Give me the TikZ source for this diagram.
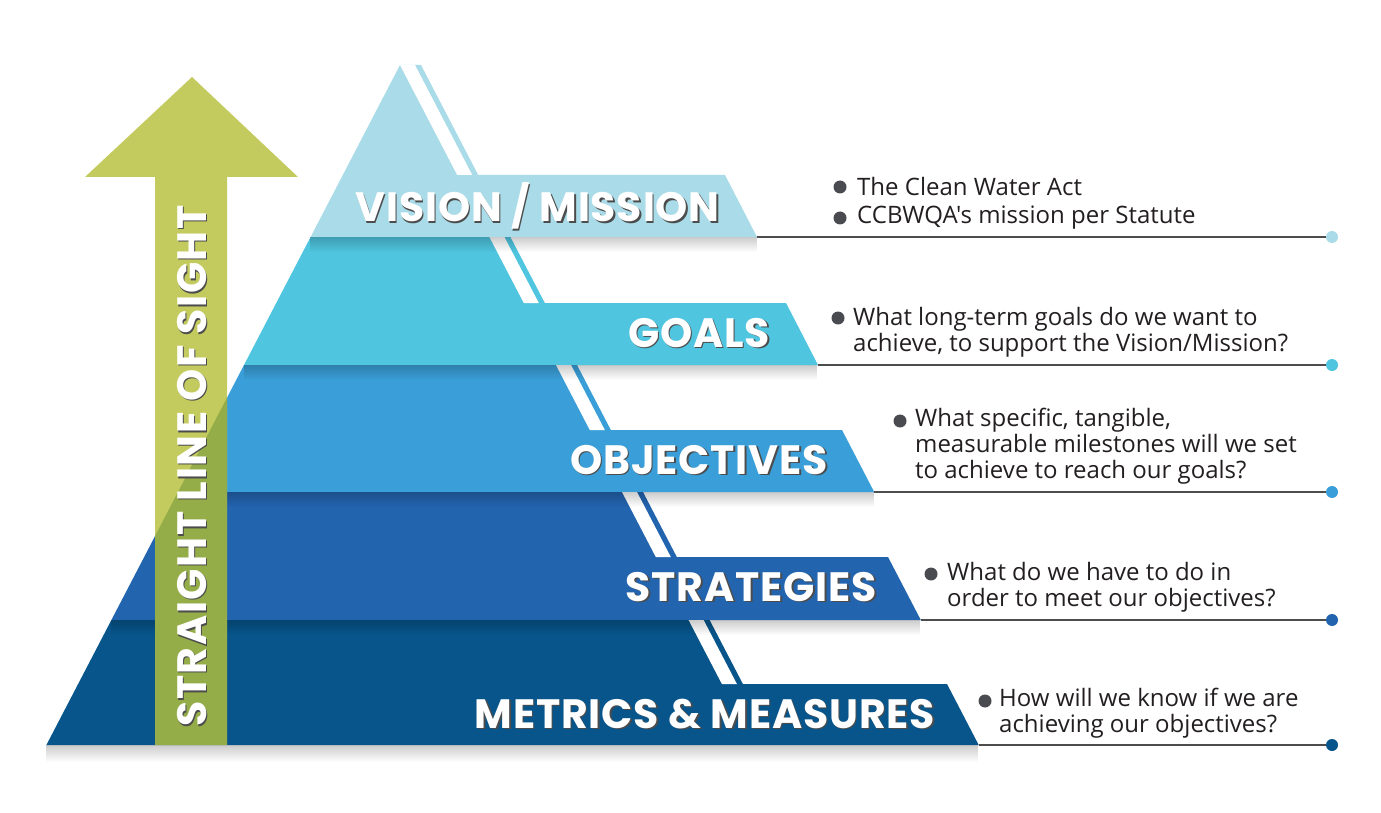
\documentclass[tikz,border=0pt]{standalone}
\usepackage{fontspec}
\usetikzlibrary{fadings}
\newfontfamily\headfont{Poppins}[LetterSpace=2]
\newfontfamily\sightfont{Poppins}[LetterSpace=4]
\newfontfamily\bodyfont{Open Sans}

\definecolor{visioncol}{HTML}{A9DCE8}
\definecolor{goalscol}{HTML}{4FC5DF}
\definecolor{objcol}{HTML}{3A9FD8}
\definecolor{stratcol}{HTML}{2364AF}
\definecolor{metriccol}{HTML}{07558B}
\definecolor{arrowlight}{HTML}{C4CB5E}
\definecolor{arrowdark}{HTML}{95AD48}
\definecolor{textdark}{HTML}{231F20}
\definecolor{bulletgray}{HTML}{4A4B50}
\definecolor{rulegray}{HTML}{4D4D4D}

\tikzset{
  title/.style={font=\headfont\bfseries\fontsize{41}{41}\selectfont, text=white, inner sep=0pt},
  titleshadow/.style={title, text=black!70},
  sighttitle/.style={title, font=\sightfont\bfseries\fontsize{41}{41}\selectfont},
  note/.style={font=\bodyfont\fontsize{24}{26}\selectfont, text=textdark, align=left, anchor=west, inner sep=0pt},
  bullet/.style={circle, fill=bulletgray, minimum size=13pt, inner sep=0pt},
  rule/.style={draw=rulegray, line width=1.3pt},
  enddot/.style={circle, minimum size=12pt, inner sep=0pt},
  tabshadow/.style={fill=black, fill opacity=0.2, path fading=south},
}
\newcommand{\tabtitle}[4][east]{%
  \node[titleshadow, anchor=#1] at ([shift={(1.5,1.5)}]#3) {#4};
  \node[title, anchor=#1] (#2) at (#3) {#4};}

\begin{document}
\begin{tikzpicture}[x=1pt,y=-1pt]
   \useasboundingbox (0,0) rectangle (1381,813);
   \fill[white] (0,0) rectangle (1381,813);
   % pyramid bands with their tabs
   \fill[visioncol] (310.6,237) -- (400,65) -- (421,65) -- (478.2,175) -- (725,175) -- (757,237) -- cycle;
   \fill[white] (400,65) -- (415,65) -- (472.2,175) -- (457.2,175) -- cycle;
   \fill[goalscol] (244,365) -- (310.6,237) -- (510.4,237) -- (544.8,303) -- (786,303) -- (818,365) -- cycle;
   \fill[white] (489.4,237) -- (504.4,237) -- (538.8,303) -- (523.8,303) -- cycle;
   \fill[objcol] (178,492) -- (244,365) -- (577,365) -- (610.8,430) -- (842,430) -- (874.2,492) -- cycle;
   \fill[white] (556,365) -- (571,365) -- (604.8,430) -- (589.8,430) -- cycle;
   \fill[stratcol] (111.4,620) -- (178,492) -- (643,492) -- (676.8,557) -- (888,557) -- (920.8,620) -- cycle;
   \fill[white] (622,492) -- (637,492) -- (670.8,557) -- (655.8,557) -- cycle;
   \fill[metriccol] (46.4,745) -- (111.4,620) -- (709.6,620) -- (742.9,684) -- (947,684) -- (978.7,745) -- cycle;
   \fill[white] (688.6,620) -- (703.6,620) -- (736.9,684) -- (721.9,684) -- cycle;
   % shadows under the tabs
   \fill[tabshadow] (310.6,237) rectangle (757,252);
   \fill[tabshadow] (244,365) rectangle (818,380);
   \fill[tabshadow] (178,492) rectangle (874.2,507);
   \fill[tabshadow] (111.4,620) rectangle (920.8,635);
   \fill[tabshadow] (46.4,745) rectangle (978.7,762);
   % arrow
   \fill[arrowlight] (155,745) -- (155,177) -- (85,177) -- (192,77) -- (298,177) -- (227,177) -- (227,745) -- cycle;
   \begin{scope}
     \clip (46.4,745) -- (400,65) -- (753.6,745) -- cycle;
     \fill[arrowdark] (155,177) rectangle (227,745);
   \end{scope}
   \node[sighttitle, text=black!70, rotate=90] at (193.5,467.5) {STRAIGHT LINE OF SIGHT};
   \node[sighttitle, rotate=90] (sight) at (192,466) {STRAIGHT LINE OF SIGHT};
   % titles
   \tabtitle{vision}{720,206}{VISION / MISSION}
   \tabtitle{goals}{770,333}{GOALS}
   \tabtitle{objectives}{828,460}{OBJECTIVES}
   \tabtitle{strategies}{877,587}{STRATEGIES}
   \tabtitle{metrics}{935,714}{METRICS \& MEASURES}
   % rules and end dots
   \coordinate (vcorner) at (757,237);
   \coordinate (gcorner) at (818,365);
   \coordinate (ocorner) at (874.2,492);
   \coordinate (scorner) at (920.8,620);
   \coordinate (mcorner) at (978.7,745);
   \node[enddot, fill=visioncol] (vdot) at (1332,237) {};
   \node[enddot, fill=goalscol]  (gdot) at (1332,365) {};
   \node[enddot, fill=objcol]    (odot) at (1332,492) {};
   \node[enddot, fill=stratcol]  (sdot) at (1332,620) {};
   \node[enddot, fill=metriccol] (mdot) at (1332,745) {};
   \draw[rule] (vcorner) -- (vdot);
   \draw[rule] (gcorner) -- (gdot);
   \draw[rule] (ocorner) -- (odot);
   \draw[rule] (scorner) -- (sdot);
   \draw[rule] (mcorner) -- (mdot);
   % notes
   \node[bullet] (vb1) at (840,187) {};
   \node[bullet] (vb2) at (840,218) {};
   \node[bullet] (gb)  at (838,318) {};
   \node[bullet] (ob)  at (900,421) {};
   \node[bullet] (sb)  at (931,574) {};
   \node[bullet] (mb)  at (985,701) {};
   \node[note] (vt1) at (857,187) {The Clean Water Act};
   \node[note] (vt2) at (857,218) {CCBWQA's mission per Statute};
   \node[note] (gt)  at (853,332) {What long-term goals do we want to\\achieve, to support the Vision/Mission?};
   \node[note] (ot)  at (915,446) {What specific, tangible,\\measurable milestones will we set\\to achieve to reach our goals?};
   \node[note] (st)  at (947,587) {What do we have to do in\\order to meet our objectives?};
   \node[note] (mt)  at (999,713.5) {How will we know if we are\\achieving our objectives?};
\end{tikzpicture}
\end{document}
